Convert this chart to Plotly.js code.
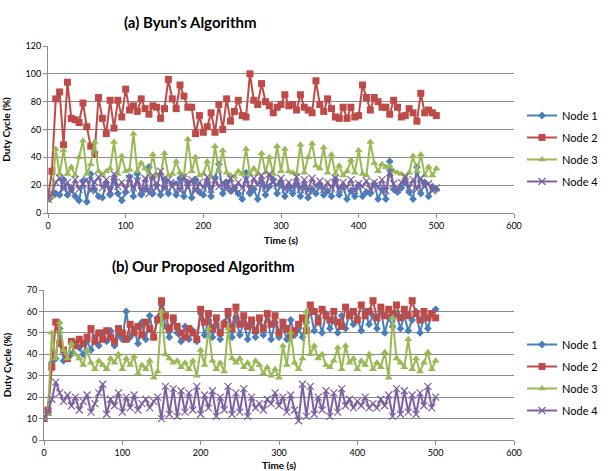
<!DOCTYPE html>
<html>
<head>
<meta charset="utf-8">
<script src="https://cdn.plot.ly/plotly-3.0.1.min.js"></script>
<style>
  html, body { margin: 0; padding: 0; background: #fff; }
  #chart { width: 608px; height: 471px; }
</style>
</head>
<body>
<div id="chart"></div>
<script>
// Sampling times (s), shared by every series
const TIME = [0,5,10,15,20,25,30,35,40,45,50,55,60,65,70,75,80,85,90,95,
  100,105,110,115,120,125,130,135,140,145,150,155,160,165,170,175,180,185,190,195,
  200,205,210,215,220,225,230,235,240,245,250,255,260,265,270,275,280,285,290,295,
  300,305,310,315,320,325,330,335,340,345,350,355,360,365,370,375,380,385,390,395,
  400,405,410,415,420,425,430,435,440,445,450,455,460,465,470,475,480,485,490,495,500];

const NODE_NAMES = ["Node 1", "Node 2", "Node 3", "Node 4"];

// (a) Byun's algorithm: duty cycle (%) per node
const BYUN_NODE1 = [10,12,14,13,24,13,18,12,9,23, 8,28,17,12,11,22,13,24,14,9,
  15,26,12,28,13,17,33,14,20,13, 24,14,21,13,25,12,22,11,24,15,
  13,22,12,25,35,14,22,16,18,14, 10,29,14,17,10,22,13,19,24,14,
  21,12,18,14,21,12,19,11,17,14, 20,13,16,12,24,13,19,10,16,12,
  20,12,15,14,21,10,17,10,37,17, 15,18,22,15,10,33,14,22,12,19, 17];
const BYUN_NODE2 = [11,30,82,87,49,94,68,67,65,79, 62,48,42,83,68,57,81,61,81,69,
  89,74,77,73,82,75,71,77,76,68, 75,96,82,75,92,84,76,76,57,70,
  58,62,72,58,78,60,82,66,73,81, 70,69,100,81,78,93,80,77,72,76,
  78,85,77,78,74,85,76,74,72,95, 78,73,82,75,69,68,76,68,76,69,
  70,92,83,74,83,80,76,76,71,81, 76,69,70,75,72,66,86,72,74,72, 70];
const BYUN_NODE3 = [9,12,46,28,45,28,33,27,40,52, 28,35,51,30,27,30,32,51,28,41,
  30,31,57,30,36,32,27,42,27,28, 43,27,28,37,29,27,53,30,40,27,
  28,37,26,48,30,45,29,27,26,30, 28,46,28,32,28,43,29,40,28,48,
  30,46,30,29,28,49,29,40,50,34, 32,47,29,42,28,34,27,30,38,29,
  45,28,27,51,36,30,35,33,34,30, 29,28,26,29,41,30,42,27,33,27, 32];
const BYUN_NODE4 = [10,14,22,25,17,22,15,24,17,21, 24,16,22,26,18,24,16,28,19,22,
  17,25,18,23,16,25,14,27,18,30, 17,24,19,22,16,26,18,24,16,22,
  18,26,17,24,19,22,17,25,16,22, 18,24,17,25,20,27,18,28,22,20,
  25,17,22,18,26,17,24,16,25,19, 23,17,22,18,25,17,22,18,24,16,
  21,19,23,17,22,18,24,16,29,21, 17,22,26,18,24,17,25,19,21,16, 18];

// (b) Proposed algorithm: duty cycle (%) per node
const OURS_NODE1 = [10,13,36,38,52,37,38,40,45,43, 40,46,42,48,44,50,46,51,44,49,
  47,60,48,52,45,55,47,58,48,57, 63,53,48,56,50,46,53,47,51,46,
  59,49,56,48,54,47,55,58,48,57, 49,55,47,54,48,56,49,58,47,55,
  48,53,47,56,49,52,48,55,60,51, 57,50,59,52,56,50,58,52,59,54,
  57,51,60,54,58,52,61,50,57,53, 59,52,58,51,56,60,50,57,52,59, 61];
const OURS_NODE2 = [10,14,34,55,45,42,38,46,44,47, 45,48,52,46,50,47,51,48,46,52,
  50,47,54,50,53,49,55,52,48,56, 65,58,52,57,53,50,48,52,50,47,
  61,55,59,52,57,50,54,60,52,62, 54,58,53,56,51,57,52,59,54,58,
  50,55,52,49,51,54,57,51,63,60, 55,61,58,56,60,55,53,62,58,60,
  56,63,58,60,65,57,62,58,61,59, 63,57,61,58,65,59,56,60,57,59, 57];
const OURS_NODE3 = [10,12,50,38,55,42,38,45,40,38, 35,42,36,33,37,35,33,38,36,40,
  33,38,35,39,31,35,33,37,29,32, 60,40,38,36,37,34,36,33,37,30,
  42,35,52,37,33,36,32,52,38,36, 38,34,36,33,37,35,31,34,30,33,
  29,44,35,50,36,33,38,60,40,44, 38,40,35,34,37,43,33,44,36,38,
  33,37,35,40,33,36,34,41,29,57, 38,36,34,47,33,38,32,36,41,33, 37];
const OURS_NODE4 = [10,13,19,27,22,18,21,16,20,14, 18,21,13,17,22,26,12,19,16,22,
  13,20,15,21,14,17,19,15,18,20, 10,25,12,24,11,23,13,22,14,25,
  12,21,15,23,11,20,14,25,12,22, 13,24,11,20,15,17,14,19,17,22,
  16,20,13,21,14,9,26,11,25,12, 20,14,23,11,22,13,24,16,19,15,
  18,16,20,15,17,15,19,16,21,11, 24,12,23,13,21,12,22,16,25,15, 20];

const COLORS = ["#4a7ebb", "#be4b48", "#98b954", "#7d60a0"];
const SYMBOLS = ["diamond", "square", "triangle-up", "x-thin-open"];
const SIZES = [6, 7, 7, 7];

function makeTraces(series, xa, ya, legendId) {
  return series.map((vals, i) => ({
    x: TIME,
    y: vals,
    xaxis: xa,
    yaxis: ya,
    type: "scatter",
    mode: "lines+markers",
    name: NODE_NAMES[i],
    legend: legendId,
    legendgroup: legendId + i,
    line: { color: COLORS[i], width: 2 },
    marker: {
      symbol: SYMBOLS[i],
      size: SIZES[i],
      color: COLORS[i],
      line: { color: COLORS[i], width: i === 3 ? 1.2 : 0 }
    },
    hoverinfo: "x+y+name"
  }));
}

const traces = [
  ...makeTraces([BYUN_NODE1, BYUN_NODE2, BYUN_NODE3, BYUN_NODE4], "x", "y", "legend"),
  ...makeTraces([OURS_NODE1, OURS_NODE2, OURS_NODE3, OURS_NODE4], "x2", "y2", "legend2")
];

const W = 608, H = 471;
const FONT = "Lato, 'Open Sans', sans-serif";
const GRID = "#8c8c8c";

function xAxis(left, anchor) {
  return {
    domain: [left / W, 514 / W],
    anchor: anchor,
    range: [0, 600],
    tick0: 0, dtick: 100,
    showgrid: false,
    zeroline: false,
    showline: true, linecolor: GRID, linewidth: 1,
    ticks: "outside", ticklen: 4, tickcolor: GRID,
    tickfont: { family: FONT, size: 9, color: "#000" },
    title: { text: "<b>Time (s)</b>", font: { family: FONT, size: 10, color: "#000" }, standoff: 7 },
    automargin: false,
    fixedrange: true
  };
}
function yAxis(top, bottom, max, step, anchor) {
  return {
    domain: [1 - bottom / H, 1 - top / H],
    anchor: anchor,
    range: [0, max],
    tick0: 0, dtick: step,
    showgrid: true, gridcolor: GRID, gridwidth: 1,
    zeroline: false,
    showline: true, linecolor: GRID, linewidth: 1,
    ticks: "outside", ticklen: 4, tickcolor: GRID,
    tickfont: { family: FONT, size: 9, color: "#000" },
    automargin: false,
    fixedrange: true
  };
}

const legendBase = {
  xanchor: "left", yanchor: "top",
  font: { family: FONT, size: 11, color: "#000" },
  bgcolor: "rgba(0,0,0,0)",
  borderwidth: 0,
  tracegroupgap: 3,
  itemwidth: 30
};

const layout = {
  width: W, height: H,
  margin: { l: 0, r: 0, t: 0, b: 0 },
  paper_bgcolor: "#fff",
  plot_bgcolor: "#fff",
  showlegend: true,
  xaxis: xAxis(48, "y"),
  yaxis: Object.assign(yAxis(46, 213, 120, 20, "x"), {
    title: { text: "<b>Duty Cycle (%)</b>", font: { family: FONT, size: 10, color: "#000" }, standoff: 13 }
  }),
  xaxis2: xAxis(44, "y2"),
  yaxis2: Object.assign(yAxis(290, 440, 70, 10, "x2"), {
    title: { text: "<b>Duty Cycle (%)</b>", font: { family: FONT, size: 10, color: "#000" }, standoff: 13 }
  }),
  legend: Object.assign({}, legendBase, { x: 522 / W, y: 1 - 101 / H }),
  legend2: Object.assign({}, legendBase, { x: 522 / W, y: 1 - 330 / H }),
  annotations: [
    {
      text: "<b>(a) Byun’s Algorithm</b>",
      xref: "paper", yref: "paper",
      x: 190 / W, y: 1 - 22 / H,
      xanchor: "center", yanchor: "middle",
      showarrow: false,
      font: { family: FONT, size: 15, color: "#000" }
    },
    {
      text: "<b>(b) Our Proposed Algorithm</b>",
      xref: "paper", yref: "paper",
      x: 203 / W, y: 1 - 266 / H,
      xanchor: "center", yanchor: "middle",
      showarrow: false,
      font: { family: FONT, size: 15, color: "#000" }
    }
  ]
};

Plotly.newPlot("chart", traces, layout, { displayModeBar: false, staticPlot: true });
</script>
</body>
</html>
